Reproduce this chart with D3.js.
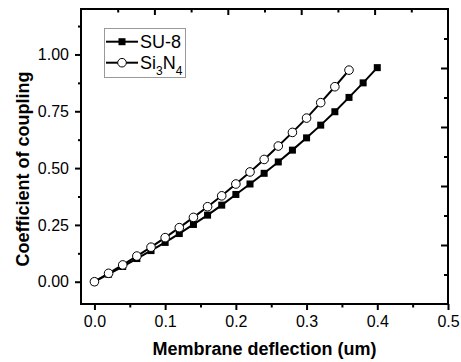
<!DOCTYPE html>
<html>
<head>
<meta charset="utf-8">
<script src="https://cdn.jsdelivr.net/npm/d3@7"></script>
<style>
body { margin: 0; background: #fff; }
svg { font-family: Arial, "Liberation Sans", sans-serif; }
</style>
</head>
<body>
<div class="chart"></div>
<script>
const WIDTH = 461;
const HEIGHT = 362;
const FRAME = { left: 81, right: 448, top: 9, bottom: 304 };

// data
const xSU8 = [0, 0.02, 0.04, 0.06, 0.08, 0.10, 0.12, 0.14, 0.16, 0.18, 0.20,
	0.22, 0.24, 0.26, 0.28, 0.30, 0.32, 0.34, 0.36, 0.38, 0.40];
const ySU8 = [0, 0.033, 0.067, 0.102, 0.137, 0.173, 0.212, 0.252, 0.293, 0.337, 0.384,
	0.430, 0.477, 0.527, 0.579, 0.633, 0.689, 0.748, 0.811, 0.875, 0.942];
const xSiN = [0, 0.02, 0.04, 0.06, 0.08, 0.10, 0.12, 0.14, 0.16, 0.18, 0.20,
	0.22, 0.24, 0.26, 0.28, 0.30, 0.32, 0.34, 0.36];
const ySiN = [0, 0.037, 0.074, 0.113, 0.152, 0.194, 0.238, 0.283, 0.330, 0.378, 0.430,
	0.483, 0.538, 0.597, 0.657, 0.720, 0.788, 0.858, 0.931];

const xTicks = [0, 0.1, 0.2, 0.3, 0.4, 0.5];
const xMinor = [0.05, 0.15, 0.25, 0.35, 0.45];
const yTicks = [0, 0.25, 0.5, 0.75, 1.0];
const yMinor = [0.125, 0.375, 0.625, 0.875, 1.125, -0.125];
// the mirrored axes (top/right) use their own equal divisions
const mirrorMajor = [1, 2, 3, 4];
const mirrorMinor = [0.5, 1.5, 2.5, 3.5, 4.5];

const svg = d3.select('.chart')
	.append('svg')
	.attr('width', WIDTH)
	.attr('height', HEIGHT);

const x = d3.scaleLinear().domain([-0.019, 0.5]).range([FRAME.left, FRAME.right]);
const y = d3.scaleLinear().domain([-0.098, 1.2]).range([FRAME.bottom, FRAME.top]);
const xm = d3.scaleLinear().domain([0, 5]).range([FRAME.left, FRAME.right]);
const ym = d3.scaleLinear().domain([0, 5]).range([FRAME.bottom, FRAME.top]);

function styleAxis(g, fontSize) {
	g.select('.domain').remove();
	g.selectAll('line').attr('stroke', '#000').attr('stroke-width', 2);
	g.selectAll('text').attr('fill', '#000').style('font-size', fontSize + 'px');
}

// bottom axis
svg.append('g')
	.attr('transform', `translate(0,${FRAME.bottom})`)
	.call(d3.axisBottom(x).tickValues(xTicks).tickSize(6).tickPadding(6).tickFormat(d3.format('.1f')))
	.call(g => styleAxis(g, 16));
svg.append('g')
	.attr('transform', `translate(0,${FRAME.bottom})`)
	.call(d3.axisBottom(x).tickValues(xMinor).tickSize(3.5).tickFormat(''))
	.call(g => styleAxis(g, 16));

// left axis
svg.append('g')
	.attr('transform', `translate(${FRAME.left},0)`)
	.call(d3.axisLeft(y).tickValues(yTicks).tickSize(6).tickPadding(6).tickFormat(d3.format('.2f')))
	.call(g => styleAxis(g, 16));
svg.append('g')
	.attr('transform', `translate(${FRAME.left},0)`)
	.call(d3.axisLeft(y).tickValues(yMinor.filter(v => v > -0.098)).tickSize(3).tickFormat(''))
	.call(g => styleAxis(g, 16));

// top axis (ticks inward)
svg.append('g')
	.attr('transform', `translate(0,${FRAME.top})`)
	.call(d3.axisBottom(xm).tickValues(mirrorMajor).tickSize(6).tickFormat(''))
	.call(g => styleAxis(g, 16));
svg.append('g')
	.attr('transform', `translate(0,${FRAME.top})`)
	.call(d3.axisBottom(xm).tickValues(mirrorMinor).tickSize(3.5).tickFormat(''))
	.call(g => styleAxis(g, 16));

// right axis (ticks inward)
svg.append('g')
	.attr('transform', `translate(${FRAME.right},0)`)
	.call(d3.axisLeft(ym).tickValues(mirrorMajor).tickSize(7).tickFormat(''))
	.call(g => styleAxis(g, 16));
svg.append('g')
	.attr('transform', `translate(${FRAME.right},0)`)
	.call(d3.axisLeft(ym).tickValues(mirrorMinor).tickSize(4).tickFormat(''))
	.call(g => styleAxis(g, 16));

// frame
svg.append('rect')
	.attr('x', FRAME.left)
	.attr('y', FRAME.top)
	.attr('width', FRAME.right - FRAME.left)
	.attr('height', FRAME.bottom - FRAME.top)
	.attr('fill', 'none')
	.attr('stroke', '#000')
	.attr('stroke-width', 2);

// series
const line = d3.line().x(d => x(d[0])).y(d => y(d[1]));
const su8 = xSU8.map((v, i) => [v, ySU8[i]]);
const sin = xSiN.map((v, i) => [v, ySiN[i]]);

svg.append('path').datum(su8).attr('d', line)
	.attr('fill', 'none').attr('stroke', '#000').attr('stroke-width', 2);
svg.selectAll('.sq').data(su8).enter().append('rect')
	.attr('class', 'sq')
	.attr('x', d => x(d[0]) - 3.5)
	.attr('y', d => y(d[1]) - 3.5)
	.attr('width', 7)
	.attr('height', 7)
	.attr('fill', '#000');

svg.append('path').datum(sin).attr('d', line)
	.attr('fill', 'none').attr('stroke', '#000').attr('stroke-width', 2);
svg.selectAll('.ci').data(sin).enter().append('circle')
	.attr('class', 'ci')
	.attr('cx', d => x(d[0]))
	.attr('cy', d => y(d[1]))
	.attr('r', 4.3)
	.attr('fill', '#fff')
	.attr('stroke', '#000')
	.attr('stroke-width', 1);

// legend
const legend = svg.append('g');
legend.append('rect')
	.attr('x', 104.5).attr('y', 28.5).attr('width', 81).attr('height', 49)
	.attr('fill', '#fff').attr('stroke', '#999').attr('stroke-width', 1);
legend.append('line')
	.attr('x1', 106).attr('x2', 138).attr('y1', 41.7).attr('y2', 41.7)
	.attr('stroke', '#000').attr('stroke-width', 2);
legend.append('rect')
	.attr('x', 118.5).attr('y', 38.2).attr('width', 7).attr('height', 7).attr('fill', '#000');
legend.append('text')
	.attr('x', 140).attr('y', 47.5)
	.style('font-size', '18px')
	.text('SU-8');
legend.append('line')
	.attr('x1', 106).attr('x2', 138).attr('y1', 62.7).attr('y2', 62.7)
	.attr('stroke', '#000').attr('stroke-width', 2);
legend.append('circle')
	.attr('cx', 122).attr('cy', 62.7).attr('r', 4.3)
	.attr('fill', '#fff').attr('stroke', '#000').attr('stroke-width', 1);
const siText = legend.append('text')
	.attr('x', 140).attr('y', 68.5)
	.style('font-size', '18px');
siText.append('tspan').text('Si');
siText.append('tspan').attr('dy', 6).style('font-size', '12px').text('3');
siText.append('tspan').attr('dy', -6).text('N');
siText.append('tspan').attr('dy', 6).style('font-size', '12px').text('4');

// axis titles
svg.append('text')
	.attr('x', (FRAME.left + FRAME.right) / 2)
	.attr('y', 355)
	.attr('text-anchor', 'middle')
	.style('font-size', '18px')
	.style('font-weight', 'bold')
	.text('Membrane deflection (um)');

svg.append('text')
	.attr('transform', 'rotate(-90)')
	.attr('x', -169)
	.attr('y', 29)
	.attr('text-anchor', 'middle')
	.style('font-size', '18px')
	.style('font-weight', 'bold')
	.text('Coefficient of coupling');
</script>
</body>
</html>
